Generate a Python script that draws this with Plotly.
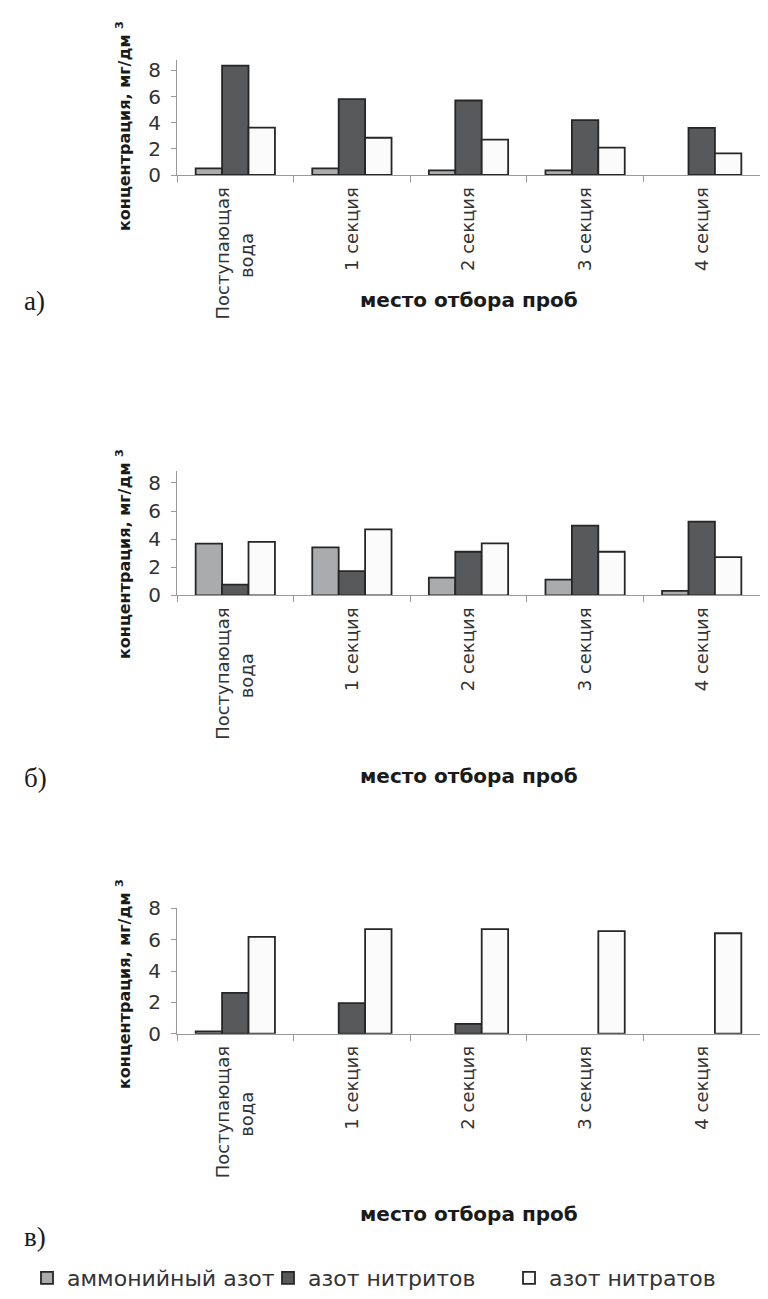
import plotly.graph_objects as go

# ---- data ----
categories = ["Поступающая вода", "1 секция", "2 секция", "3 секция", "4 секция"]
tick_text = ["Поступающая<br>вода" + "\u00a0" * 8, "1 секция", "2 секция", "3 секция", "4 секция"]
series_names = ["аммонийный азот", "азот нитритов", "азот нитратов"]

# panel а)
a_ammonium = [0.5, 0.5, 0.35, 0.35, 0]
a_nitrite = [8.37, 5.8, 5.7, 4.2, 3.6]
a_nitrate = [3.62, 2.85, 2.7, 2.1, 1.65]
# panel б)
b_ammonium = [3.68, 3.41, 1.26, 1.12, 0.31]
b_nitrite = [0.76, 1.72, 3.1, 4.96, 5.25]
b_nitrate = [3.8, 4.7, 3.7, 3.1, 2.72]
# panel в)
c_ammonium = [0.15, 0, 0, 0, 0]
c_nitrite = [2.6, 1.95, 0.63, 0, 0]
c_nitrate = [6.18, 6.67, 6.67, 6.54, 6.41]

y_ticks = [0, 2, 4, 6, 8]
panel_letters = ["а)", "б)", "в)"]
x_title = "место отбора проб"
y_title = "концентрация, мг/дм <sup>3</sup>"

# ---- styles ----
W, H = 768, 1299
colors = ["#a9abad", "#58595b", "#fbfbfb"]
edge = "#262626"
FONT = "DejaVu Sans"

panels = [
    dict(data=[a_ammonium, a_nitrite, a_nitrate], top=52, bottom=167, ymax=8.8,
         xt_y=292, letter_y=293, yt_c=118),
    dict(data=[b_ammonium, b_nitrite, b_nitrate], top=462.7, bottom=587.3, ymax=8.87,
         xt_y=768, letter_y=770, yt_c=546),
    dict(data=[c_ammonium, c_nitrite, c_nitrate], top=900, bottom=1025.7, ymax=8.02,
         xt_y=1206, letter_y=1229, yt_c=976),
]

fig = go.Figure()
x_left, x_right = 169, 752

for i, p in enumerate(panels):
    sfx = "" if i == 0 else str(i + 1)
    for j, (name, vals) in enumerate(zip(series_names, p["data"])):
        fig.add_trace(go.Bar(
            x=categories, y=[v if v else None for v in vals], name=name,
            marker=dict(color=colors[j], line=dict(color=edge, width=1.8)),
            xaxis="x" + sfx, yaxis="y" + sfx,
            showlegend=(i == 0), legendgroup=name,
        ))
    fig.layout["xaxis" + sfx] = dict(
        domain=[x_left / W, x_right / W], anchor="y" + sfx,
        type="category", tickmode="array", tickvals=categories, ticktext=tick_text,
        tickangle=-90, tickson="boundaries", ticks="outside", ticklen=6,
        tickcolor="#9a9a9a", showline=True, linecolor="#9a9a9a", linewidth=1,
        tickfont=dict(family=FONT, size=18, color="#333333"),
        ticklabelstandoff=4, automargin=False, showgrid=False, zeroline=False,
    )
    fig.layout["yaxis" + sfx] = dict(
        domain=[1 - p["bottom"] / H, 1 - p["top"] / H], anchor="x" + sfx,
        range=[0, p["ymax"]], tickmode="array", tickvals=y_ticks,
        ticks="outside", ticklen=5, tickcolor="#9a9a9a",
        showline=True, linecolor="#9a9a9a", linewidth=1,
        tickfont=dict(family=FONT, size=20, color="#333333"),
        ticklabelstandoff=6, automargin=False, showgrid=False, zeroline=False,
    )
    # axis titles and panel letters
    fig.add_annotation(text=x_title, x=(x_left + x_right) / 2 / W, y=1 - p["xt_y"] / H,
                       xref="paper", yref="paper", showarrow=False,
                       xanchor="center", yanchor="middle",
                       font=dict(family=FONT, size=20, color="#1a1a1a", weight="bold"))
    fig.add_annotation(text=y_title, x=115 / W, y=1 - p["yt_c"] / H,
                       xref="paper", yref="paper", showarrow=False, textangle=-90,
                       xanchor="center", yanchor="middle",
                       font=dict(family=FONT, size=16, color="#1a1a1a", weight="bold"))
    fig.add_annotation(text=panel_letters[i], x=14 / W, y=1 - p["letter_y"] / H,
                       xref="paper", yref="paper", showarrow=False,
                       xanchor="left", yanchor="middle",
                       font=dict(family="Liberation Serif", size=27, color="#1a1a1a"))

fig.update_layout(
    width=W, height=H, margin=dict(l=0, r=0, t=0, b=0),
    paper_bgcolor="white", plot_bgcolor="white",
    barmode="group", bargap=0.32, bargroupgap=0,
    legend=dict(orientation="h", x=19 / W, xanchor="left", y=1 - 1270 / H,
                yanchor="middle", font=dict(family=FONT, size=22, color="#333333"),
                itemwidth=30, entrywidth=196, entrywidthmode="pixels",
                tracegroupgap=0, bgcolor="rgba(0,0,0,0)"),
)

fig.write_html("out.html")
